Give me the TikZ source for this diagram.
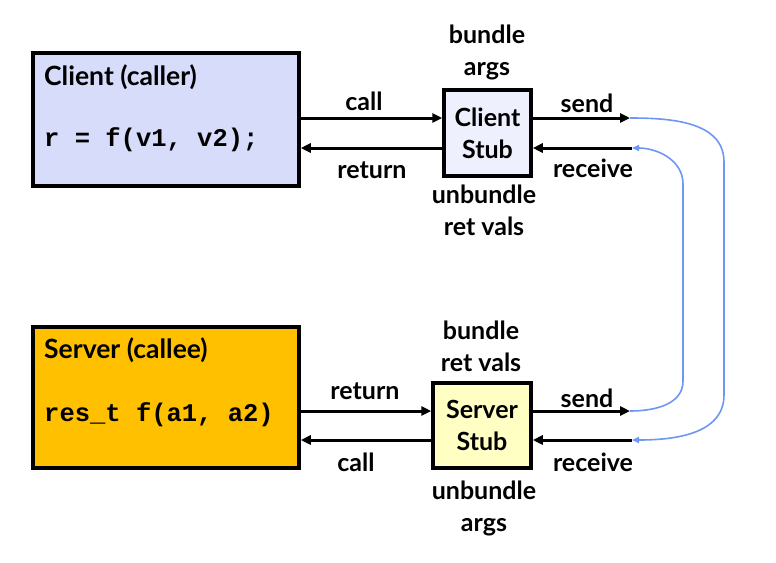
\documentclass[tikz,border=0pt]{standalone}
\usepackage{fontspec}
\setmainfont{Lato}
\setmonofont{Liberation Mono}
\usetikzlibrary{arrows.meta}
\definecolor{clientblue}{RGB}{214,220,250}
\definecolor{stubblue}{RGB}{238,240,254}
\definecolor{serverorange}{RGB}{255,192,0}
\definecolor{stubyellow}{RGB}{255,255,196}
\definecolor{netblue}{RGB}{110,150,245}

\begin{document}
\begin{tikzpicture}[x=1pt,y=-1pt,
    box/.style={draw,line width=3.5pt,inner sep=0pt},
    lbl/.style={font=\fontsize{25}{32}\selectfont\bfseries,align=center,inner sep=0pt},
    title/.style={font=\fontsize{26.5}{28}\selectfont\bfseries,anchor=west,inner sep=0pt},
    code/.style={font=\fontsize{25.5}{28}\selectfont\ttfamily\bfseries,anchor=west,inner sep=0pt},
    arr/.style={line width=3pt,-{Triangle[length=10pt,width=9pt]}},
    net/.style={netblue,line width=1.6pt,-{Triangle[length=7pt,width=6pt]}}]
    \useasboundingbox (0,0) rectangle (776,562);

    % Client side
    \node[box,fill=clientblue,minimum width=266pt,minimum height=133pt] (client) at (166,119.5) {};
    \node[title] (clienttitle) at (44,77) {Client (caller)};
    \node[code] (clientcode) at (44,140) {r = f(v1, v2);};
    \node[box,fill=stubblue,minimum width=87pt,minimum height=86pt,lbl] (cstub) at (487.5,133) {Client\\Stub};
    \node[lbl] (cbundle) at (487,52) {bundle\\args};
    \node[lbl] (cunbundle) at (484,210.5) {unbundle\\ret vals};
    \coordinate (csend) at (630,118);
    \coordinate (crecv) at (632,148);

    \draw[arr] ([yshift=15pt]cstub.west -| client.east) -- ([yshift=15pt]cstub.west);
    \draw[arr] ([yshift=-15pt]cstub.west) -- ([yshift=-15pt]cstub.west -| client.east);
    \draw[arr] ([yshift=15pt]cstub.east) -- (csend);
    \draw[arr] (crecv) -- ([yshift=-15pt]cstub.east);
    \node[lbl] (ccall) at (364,101) {call};
    \node[lbl] (creturn) at (372,170) {return};
    \node[lbl] (csendlbl) at (587,103) {send};
    \node[lbl] (crecvlbl) at (593,168) {receive};

    % Server side
    \node[box,fill=serverorange,minimum width=266pt,minimum height=141pt] (server) at (166,397.5) {};
    \node[title] (servertitle) at (44,350) {Server (callee)};
    \node[code] (servercode) at (44,415) {res\_t f(a1, a2)};
    \node[box,fill=stubyellow,minimum width=98pt,minimum height=85pt,lbl] (sstub) at (482,425.5) {Server\\Stub};
    \node[lbl] (sbundle) at (481,346.5) {bundle\\ret vals};
    \node[lbl] (sunbundle) at (484,508) {unbundle\\args};
    \coordinate (ssend) at (630,411);
    \coordinate (srecv) at (632,440);

    \draw[arr] ([yshift=14.5pt]sstub.west -| server.east) -- ([yshift=14.5pt]sstub.west);
    \draw[arr] ([yshift=-14.5pt]sstub.west) -- ([yshift=-14.5pt]sstub.west -| server.east);
    \draw[arr] ([yshift=14.5pt]sstub.east) -- (ssend);
    \draw[arr] (srecv) -- ([yshift=-14.5pt]sstub.east);
    \node[lbl] (sreturn) at (365,391) {return};
    \node[lbl] (scall) at (356,462) {call};
    \node[lbl] (ssendlbl) at (587,398) {send};
    \node[lbl] (srecvlbl) at (593,462) {receive};

    % Network
    \draw[net] (csend) to[out=0,in=90] (724,162) -- (724,395) to[out=-90,in=0] (srecv);
    \draw[net] (ssend) to[out=0,in=-90] (683,381) -- (683,184) to[out=90,in=0] (crecv);
\end{tikzpicture}
\end{document}
